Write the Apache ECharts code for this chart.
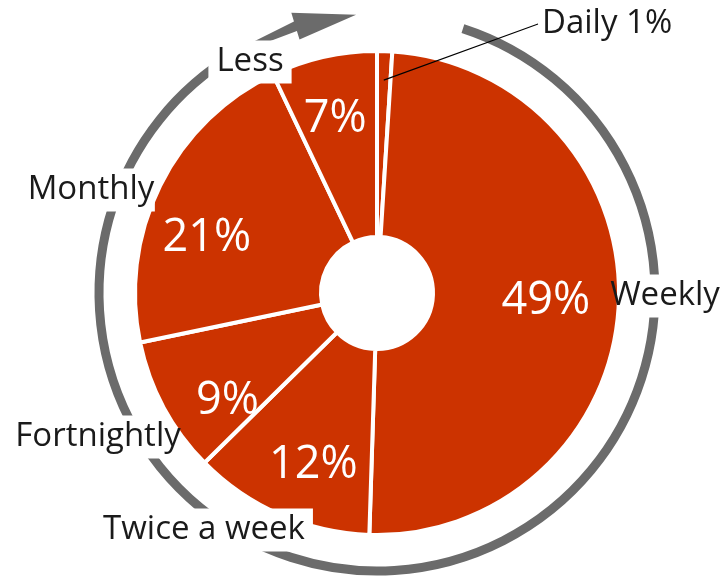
<!DOCTYPE html>
<html>
<head>
<meta charset="utf-8">
<script src="https://cdn.jsdelivr.net/npm/echarts@6/dist/echarts.min.js"></script>
<style>
  html, body { margin: 0; background: #fff; }
  #chart { width: 724px; height: 582px; }
</style>
</head>
<body>
<div id="chart"></div>
<script>
const categories = ["Daily", "Weekly", "Twice a week", "Fortnightly", "Monthly", "Less"];
const shares = [1, 49, 12, 9, 21, 7];

const center = [377, 293];
const ringR = 278;
// spots for the outside name labels
const namePos = [[538, 24], [661, 296], [204, 530], [98, 437], [91, 190], [250, 62]];
// small nudges for the percent labels
const pctShift = [[0, 0], [-12, 0], [9, 6], [10, 23], [-8, 26], [-2, 3]];

const font = "'Open Sans', sans-serif";
const chart = echarts.init(document.getElementById("chart"));

// angle in degrees clockwise from 12 o'clock
function polar(deg, r) {
  const a = deg * Math.PI / 180;
  return [center[0] + r * Math.sin(a), center[1] - r * Math.cos(a)];
}
const rad = (d) => (d - 90) * Math.PI / 180;

// arrow tip of the circular arrow
const arrowHead = [
  [-31, 281], [-17, 284], [-17, 293], [-4.3, 279], [-17, 265], [-17, 274], [-31, 278]
].map((p) => polar(p[0], p[1]));

const data = categories.map((c, i) => ({ name: c, value: shares[i] }));

const option = {
  animation: false,
  backgroundColor: "#fff",
  graphic: [
    {
      type: "arc",
      z: 0,
      shape: { cx: center[0], cy: center[1], r: ringR, startAngle: rad(18), endAngle: rad(329), clockwise: true },
      style: { stroke: "#6b6b6b", lineWidth: 9, fill: null },
    },
    {
      type: "polygon",
      z: 0,
      shape: { points: arrowHead },
      style: { fill: "#6b6b6b" },
    },
  ],
  series: [
    {
      // slices
      type: "pie",
      center: center,
      radius: [56, 242],
      startAngle: 90,
      clockwise: true,
      silent: true,
      itemStyle: { color: "#cc3300", borderColor: "#fff", borderWidth: 4 },
      label: { show: false },
      labelLine: { show: false },
      data: data,
    },
    {
      // percentages inside
      type: "pie",
      z: 3,
      center: center,
      radius: [116, 240],
      startAngle: 90,
      silent: true,
      itemStyle: { color: "transparent" },
      label: {
        show: true,
        position: "inside",
        formatter: (p) => (p.dataIndex === 0 ? "" : p.value + "%"),
        color: "#fff",
        fontFamily: font,
        fontSize: 45,
      },
      labelLine: { show: false },
      labelLayout: (p) => ({ dx: pctShift[p.dataIndex][0], dy: pctShift[p.dataIndex][1] }),
      data: data,
    },
    {
      // names outside
      type: "pie",
      z: 4,
      center: center,
      radius: [56, 213],
      startAngle: 90,
      silent: true,
      itemStyle: { color: "transparent" },
      label: {
        show: true,
        position: "outside",
        overflow: "none",
        formatter: (p) => (p.dataIndex === 0 ? p.name + " " + p.value + "%" : p.name),
        color: "#1a1a1a",
        fontFamily: font,
        fontSize: 33,
        backgroundColor: "#fff",
        padding: [5, 8],
      },
      labelLine: { show: false },
      labelLayout: (p) => {
        const pos = namePos[p.dataIndex];
        return { x: pos[0], y: pos[1], align: p.dataIndex === 0 ? "left" : "center", verticalAlign: "middle" };
      },
      data: data.map((d, i) =>
        i === 0
          ? Object.assign({}, d, {
              label: { backgroundColor: "transparent", padding: [5, 4] },
              labelLine: { show: true, length: 0.01, length2: 0.01, lineStyle: { color: "#000", width: 1.2 } },
            })
          : i === 1
          ? Object.assign({}, d, { label: { padding: [5, 8, 5, 16] } })
          : d
      ),
    },
  ],
};

chart.setOption(option);
</script>
</body>
</html>
